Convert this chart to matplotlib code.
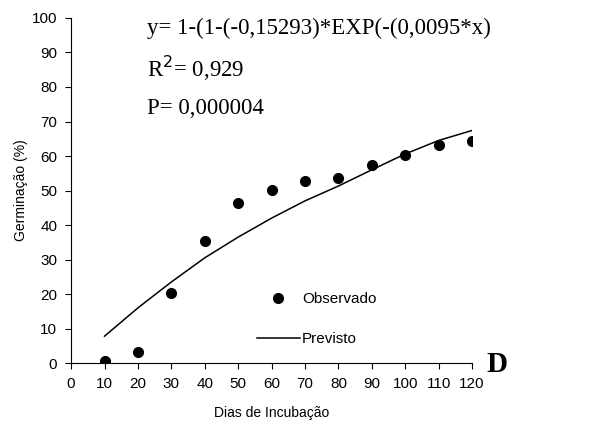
import matplotlib

matplotlib.use("Agg")
import matplotlib.pyplot as plt

# Observed vs predicted germination over incubation days
dias = [10, 20, 30, 40, 50, 60, 70, 80, 90, 100, 110, 120]
observado = [0.5, 3.3, 20.3, 35.5, 46.3, 50.2, 52.7, 53.6, 57.5, 60.3, 63.3, 64.3]
previsto = [7.8, 16.0, 23.5, 30.5, 36.5, 42.0, 47.0, 51.3, 56.0, 60.6, 64.5, 67.4]

x_ticks = list(range(0, 121, 10))
y_ticks = list(range(0, 101, 10))

SANS = "Liberation Sans"
SERIF = "Liberation Serif"

fig = plt.figure(figsize=(6.13, 4.38), dpi=100)
ax = fig.add_axes([0.116, 0.171, 0.654, 0.788])

ax.plot(dias, observado, "o", color="black", ms=7, label="Observado")
ax.plot(dias, previsto, "-", color="black", lw=1.1, label="Previsto")

ax.set_xlim(0, 120)
ax.set_ylim(0, 100)
ax.set_xticks(x_ticks)
ax.set_yticks(y_ticks)
ax.tick_params(direction="out", length=4, width=0.8, labelsize=11, pad=6)
for lab in ax.get_xticklabels() + ax.get_yticklabels():
    lab.set_family(SANS)
for s in ("top", "right"):
    ax.spines[s].set_visible(False)

ax.set_xlabel("Dias de Incubação", family=SANS, fontsize=10, labelpad=11)
ax.set_ylabel("Germinação (%)", family=SANS, fontsize=10, labelpad=3)

ax.text(147 / 613, 1 - 28 / 438, "y= 1-(1-(-0,15293)*EXP(-(0,0095*x)",
        transform=fig.transFigure, family=SERIF, fontsize=16.5, va="center")
ax.text(147 / 613, 1 - 68 / 438, "R$^2$= 0,929",
        transform=fig.transFigure, family=SERIF, fontsize=16.5, va="center")
ax.text(147 / 613, 1 - 108 / 438, "P= 0,000004",
        transform=fig.transFigure, family=SERIF, fontsize=16.5, va="center")

fig.text(486 / 613, 1 - 365 / 438, "D", family=SERIF, fontsize=21,
         weight="bold", va="center")

leg = ax.legend(loc="upper left", bbox_to_anchor=(257 / 613, 1 - 292 / 438),
                bbox_transform=fig.transFigure, frameon=False, borderpad=0,
                borderaxespad=0, handlelength=2.8, handletextpad=0.15,
                labelspacing=1.7, prop={"family": SANS, "size": 11})

fig.savefig("out.png", dpi=100)
